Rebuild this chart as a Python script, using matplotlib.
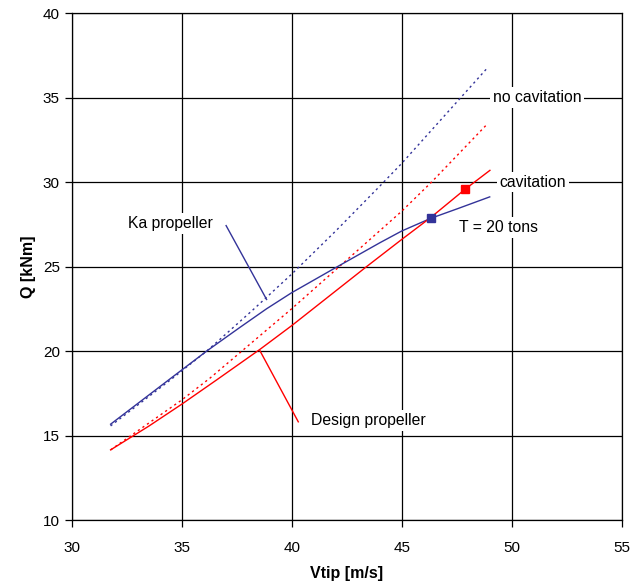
import matplotlib.pyplot as plt

plt.rcParams['font.family'] = ['Liberation Sans', 'DejaVu Sans']

# Ka propeller (blue), design propeller (red); solid = cavitation, dotted = no cavitation
ka_cav_x = [31.77, 34.55, 36.14, 37.65, 38.86, 40.0, 42.05, 44.0, 45.0, 46.32, 47.6, 49.0]
ka_cav_q = [15.67, 18.43, 20.0, 21.4, 22.5, 23.45, 24.97, 26.4, 27.1, 27.85, 28.45, 29.12]

ka_nocav_x = [31.77, 34.55, 36.14, 36.74, 38.26, 40.0, 42.0, 44.0, 45.0, 47.73, 48.86]
ka_nocav_q = [15.57, 18.35, 20.0, 20.69, 22.46, 24.55, 27.1, 29.75, 31.1, 35.06, 36.7]

des_cav_x = [31.77, 33.5, 35.0, 36.6, 38.56, 40.0, 43.41, 45.0, 46.32, 47.88, 49.01]
des_cav_q = [14.15, 15.55, 16.85, 18.3, 20.1, 21.5, 25.0, 26.6, 27.9, 29.57, 30.69]

des_nocav_x = [31.77, 35.0, 36.29, 40.0, 42.95, 45.0, 46.36, 48.86]
des_nocav_q = [14.15, 17.1, 18.4, 22.5, 25.9, 28.27, 30.0, 33.39]

# operating points at T = 20 tons
ka_pt = (46.32, 27.85)
des_pt = (47.88, 29.57)

blue = '#333399'
red = '#ff0000'

fig = plt.figure(figsize=(6.37, 5.86), dpi=100)
ax = fig.add_axes([0.1125, 0.1126, 0.8635, 0.8652])

dot = (0, (1.6, 2.4))
ax.plot(ka_nocav_x, ka_nocav_q, color=blue, lw=1, linestyle=dot)
ax.plot(des_nocav_x, des_nocav_q, color=red, lw=1, linestyle=dot)
ax.plot(ka_cav_x, ka_cav_q, color=blue, lw=1)
ax.plot(des_cav_x, des_cav_q, color=red, lw=1)
ax.plot(*ka_pt, marker='s', color=blue, ms=6, zorder=5)
ax.plot(*des_pt, marker='s', color=red, ms=6, zorder=5)

ax.set_xlim(30, 55)
ax.set_ylim(10, 40)
ax.set_xticks(range(30, 56, 5))
ax.set_yticks(range(10, 41, 5))
ax.grid(True, color='black', lw=0.9)
ax.set_axisbelow(True)
for s in ax.spines.values():
    s.set_linewidth(0.9)
ax.tick_params(labelsize=11, length=5, width=0.9, direction='out')
ax.tick_params(axis='x', pad=10)

ax.set_xlabel('Vtip [m/s]', fontsize=11.5, fontweight='bold', labelpad=8)
ax.set_ylabel('Q [kNm]', fontsize=11.5, fontweight='bold', labelpad=5)

box = dict(facecolor='white', edgecolor='none', pad=2)
fs = 11.3
ax.text(51.15, 35, 'no cavitation', fontsize=fs, ha='center', va='center', bbox=box)
ax.text(50.97, 30, 'cavitation', fontsize=fs, ha='center', va='center', bbox=box)
ax.text(49.4, 27.3, 'T = 20 tons', fontsize=fs, ha='center', va='center', bbox=box)
ax.text(34.5, 27.55, 'Ka propeller', fontsize=fs, ha='center', va='center', bbox=box)
ax.text(43.5, 15.88, 'Design propeller', fontsize=fs, ha='center', va='center', bbox=box)

ax.plot([37.02, 38.86], [27.42, 23.05], color=blue, lw=1)
ax.plot([38.56, 40.3], [20.01, 15.81], color=red, lw=1)

fig.savefig('out.png', dpi=100)
